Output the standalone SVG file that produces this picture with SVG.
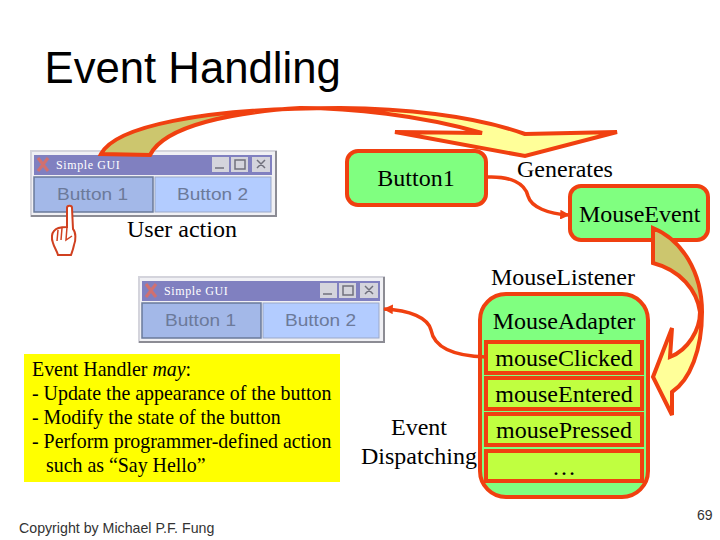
<svg xmlns="http://www.w3.org/2000/svg" width="720" height="540" viewBox="0 0 720 540">
<style>
.s{font-family:"Liberation Serif",serif;font-size:24px;fill:#000}
.m{text-anchor:middle}
.y{font-family:"Liberation Serif",serif;font-size:19.9px;fill:#000}
.n{fill:#80FF80;stroke:#F04010;stroke-width:4}
.r{fill:#C0FF40;stroke:#F04010;stroke-width:4}
.c{fill:none;stroke:#F04010;stroke-width:3.5}
.b{stroke:#F04010;stroke-width:4;stroke-linejoin:miter}
.wo{fill:#F0F0F4;stroke:#D4D4DC;stroke-width:2}
.ws{fill:none;stroke:#8C8C94;stroke-width:2}
.wt{fill:#8080C0}
.wb{fill:#D4D4DC}
.wi{fill:none;stroke:#70707C;stroke-width:1.5}
.tt{font-family:"Liberation Serif",serif;font-size:12px;fill:#fff;letter-spacing:.6px}
.bt{font-family:"Liberation Sans",sans-serif;font-size:17px;fill:#6C7A9A}
</style>
<defs>
<linearGradient id="g1" gradientUnits="userSpaceOnUse" x1="100" y1="0" x2="620" y2="0">
<stop offset="0" stop-color="#CCC66E"/><stop offset=".42" stop-color="#CCC66E"/><stop offset=".56" stop-color="#FFFF99"/><stop offset="1" stop-color="#FFFF99"/>
</linearGradient>
<linearGradient id="g2" gradientUnits="userSpaceOnUse" x1="0" y1="228" x2="0" y2="415">
<stop offset="0" stop-color="#CCC66E"/><stop offset=".42" stop-color="#CCC66E"/><stop offset=".56" stop-color="#FFFF99"/><stop offset="1" stop-color="#FFFF99"/>
</linearGradient>
<marker id="ah" viewBox="0 0 10 10" refX="9" refY="5" markerWidth="2.8" markerHeight="2.8" orient="auto-start-reverse" markerUnits="strokeWidth"><path d="M0,0L10,5L0,10Z" fill="#F04010"/></marker>
</defs>
<rect width="720" height="540" fill="#fff"/>
<text id="title" x="44.5" y="83" font-family="'Liberation Sans',sans-serif" font-size="43.7px" fill="#000">Event Handling</text>

<g id="window1">
<rect class="wo" x="31" y="151" width="245" height="65"/>
<path class="ws" d="M31,216H276V151"/>
<rect class="wt" x="34" y="155" width="238" height="20"/>
<path d="M38,158L48,171M48,158L38,171" stroke="#D07070" stroke-width="3" fill="none"/>
<text class="tt" x="56" y="169">Simple GUI</text>
<rect class="wb" x="212" y="157" width="17" height="15"/><rect class="wb" x="231" y="157" width="17" height="15"/><rect class="wb" x="252" y="157" width="18" height="15"/>
<path class="wi" d="M215,168H224M235,160H245V169H235ZM257,160L265,168M265,160L257,168"/>
<rect x="34" y="177" width="119" height="35" fill="#A3B8E8" stroke="#6A7A9A" stroke-width="1.5"/>
<rect x="155" y="177" width="116" height="35" fill="#B3CCFF" stroke="#9AA8C8" stroke-width="1"/>
<text class="bt" x="57" y="200" textLength="71" lengthAdjust="spacingAndGlyphs">Button 1</text>
<text class="bt" x="177" y="200" textLength="71" lengthAdjust="spacingAndGlyphs">Button 2</text>
</g>
<g id="window2" transform="translate(108,126)">
<rect class="wo" x="31" y="151" width="245" height="65"/>
<path class="ws" d="M31,216H276V151"/>
<rect class="wt" x="34" y="155" width="238" height="20"/>
<path d="M38,158L48,171M48,158L38,171" stroke="#D07070" stroke-width="3" fill="none"/>
<text class="tt" x="56" y="169">Simple GUI</text>
<rect class="wb" x="212" y="157" width="17" height="15"/><rect class="wb" x="231" y="157" width="17" height="15"/><rect class="wb" x="252" y="157" width="18" height="15"/>
<path class="wi" d="M215,168H224M235,160H245V169H235ZM257,160L265,168M265,160L257,168"/>
<rect x="34" y="177" width="119" height="35" fill="#A3B8E8" stroke="#6A7A9A" stroke-width="1.5"/>
<rect x="155" y="177" width="116" height="35" fill="#B3CCFF" stroke="#9AA8C8" stroke-width="1"/>
<text class="bt" x="57" y="200" textLength="71" lengthAdjust="spacingAndGlyphs">Button 1</text>
<text class="bt" x="177" y="200" textLength="71" lengthAdjust="spacingAndGlyphs">Button 2</text>
</g>
<g id="hand">
<path d="M67,208C67,205 72,205 72,208L73,229C76,232 76,240 74,245C73,250 72,252 71,255L58,255C57,251 54,247 53,243C51,238 52,233 54,231C56,228 60,227 67,227Z" fill="#fff" stroke="#D04020" stroke-width="2"/>
<path d="M58,230L57,241M62,228L61,240M67,227L66,240L72,236" fill="none" stroke="#D04020" stroke-width="1.5"/>
</g>
<text id="user-action" class="s" x="127" y="237">User action</text>

<g id="button1">
<rect class="n" x="347" y="151" width="139" height="54" rx="11"/>
<text class="s m" x="416" y="186">Button1</text>
</g>
<text id="generates" class="s" x="517" y="177">Generates</text>
<g id="mouseevent">
<rect class="n" x="570" y="186" width="138" height="54" rx="11"/>
<text class="s" x="579" y="222">MouseEvent</text>
</g>
<text id="mouselistener" class="s m" x="563" y="285">MouseListener</text>
<g id="mouseadapter">
<rect class="n" x="480" y="294" width="168" height="203" rx="26"/>
<text class="s m" x="564" y="329">MouseAdapter</text>
</g>
<g id="mouseclicked"><rect class="r" x="486" y="342" width="156" height="31"/><text class="s m" x="564" y="366">mouseClicked</text></g>
<g id="mouseentered"><rect class="r" x="486" y="378" width="156" height="31"/><text class="s m" x="564" y="402">mouseEntered</text></g>
<g id="mousepressed"><rect class="r" x="486" y="414" width="156" height="31"/><text class="s m" x="564" y="438">mousePressed</text></g>
<g id="more"><rect class="r" x="486" y="451" width="156" height="30"/><text class="s m" x="564" y="475">…</text></g>
<g id="dispatching"><text class="s m" x="419" y="435">Event</text><text class="s m" x="419" y="464">Dispatching</text></g>
<g id="handler">
<rect x="24" y="354" width="316" height="128" fill="#FFFF00"/>
<text class="y" x="32" y="376">Event Handler <tspan font-style="italic">may</tspan>:</text>
<text class="y" x="32" y="400">- Update the appearance of the button</text>
<text class="y" x="32" y="424">- Modify the state of the button</text>
<text class="y" x="32" y="448">- Perform programmer-defined action</text>
<text class="y" x="46" y="472">such as “Say Hello”</text>
</g>
<text id="copyright" x="19" y="533" font-family="'Liberation Sans',sans-serif" font-size="14.2px" fill="#333">Copyright by Michael P.F. Fung</text>
<text id="page" x="697" y="520" font-family="'Liberation Sans',sans-serif" font-size="14px" fill="#333">69</text>

<g id="connectors">
<path class="c" marker-end="url(#ah)" d="M487,177C510,176 525,183 528,196C531,207 548,214 569,215"/>
<path class="c" marker-end="url(#ah)" d="M486,357C452,356 434,347 431,330C428,318 410,310 384,309"/>
<path class="b" fill="url(#g1)" d="M101,154C115,127 200,108 340,108C420,109 480,118 525,134L617,132L525,156L395,132L482,133C420,115 350,108 300,108C235,112 165,125 150,155Z"/>
<path class="b" fill="url(#g2)" d="M653,228C682,240 702,272 702,312C702,350 690,380 672,392L672,415L653,377L672,328L670,357C688,350 700,330 700,312C697,290 680,270 653,263Z"/>
</g>
</svg>
